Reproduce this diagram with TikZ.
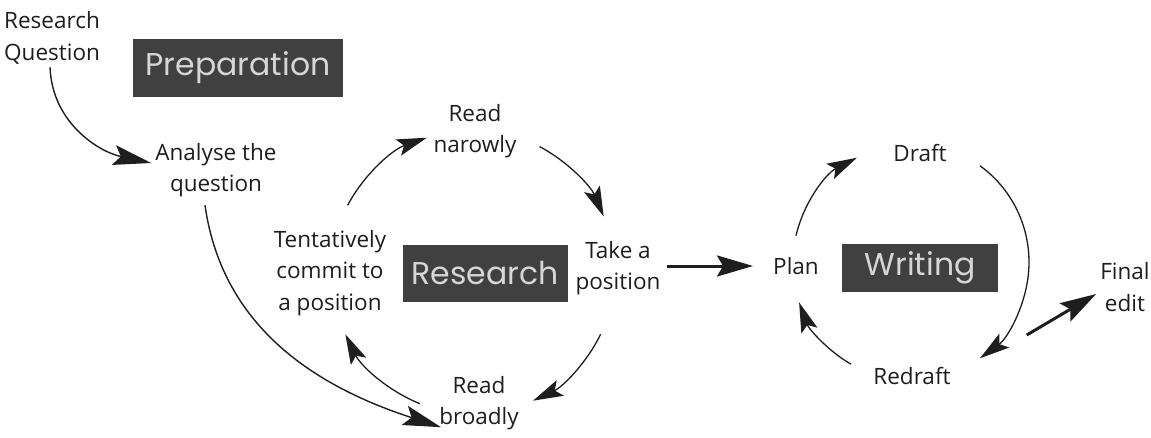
\documentclass[tikz,border=0pt]{standalone}
\usepackage{fontspec}
\setmainfont{Open Sans}
\newfontfamily\phasefamily{Poppins}
\usetikzlibrary{arrows.meta,calc}
\definecolor{boxgray}{HTML}{404040}
\definecolor{boxtext}{HTML}{D6D6D6}
\definecolor{ink}{HTML}{1E1E1E}
\newcommand{\phasefont}{\phasefamily\fontsize{31.5}{36}\selectfont}
\begin{document}
\begin{tikzpicture}[x=1pt,y=1pt,
  lbl/.style={text=ink, font=\fontsize{22.5}{31.5}\selectfont, align=center, inner sep=0pt},
  phase/.style={fill=boxgray, text=boxtext, font=\phasefont, inner sep=0pt},
  arr/.style={draw=ink, line width=1.3pt, -{Stealth[length=30pt,width=17pt,inset=6pt]}},
  bigarr/.style={draw=ink, line width=1.4pt, -{Stealth[length=38pt,width=20pt,inset=7pt]}},
  thickarr/.style={draw=ink, line width=3pt, -{Stealth[length=36pt,width=21pt,inset=6pt]}}
]
\fill[white] (0,0) rectangle (1151,437);
\useasboundingbox (0,0) rectangle (1151,437);

% phase boxes
\node[phase, minimum width=210pt, minimum height=58pt] (prep) at (238,369) {Preparation};
\node[phase, minimum width=165pt, minimum height=57pt] (res) at (485,164) {Research};
\node[phase, minimum width=156pt, minimum height=48pt] (wri) at (920,169) {Writing};

% labels
\node[lbl, align=left, anchor=west] (rq) at (4,399) {Research\\Question};
\node[lbl] (an) at (216,267) {Analyse the\\question};
\node[lbl] (rn) at (475,306) {Read\\narowly};
\node[lbl] (tc) at (330,164) {Tentatively\\commit to\\a position};
\node[lbl] (tp) at (618,169) {Take a\\position};
\node[lbl] (rb) at (479,34) {Read\\broadly};
\node[lbl] (pl) at (796,171) {Plan};
\node[lbl] (dr) at (920,284) {Draft};
\node[lbl] (rd) at (912,61) {Redraft};
\node[lbl] (fe) at (1125,150) {Final\\edit};

% circle centres
\coordinate (rc) at (473,165);
\coordinate (wc) at (910,175);

% preparation flow
\draw[bigarr] ([xshift=-2pt,yshift=-3pt]rq.south) to[out=-88,in=168] ([xshift=-4pt,yshift=7pt]an.west);
\draw[bigarr] ([xshift=-11pt,yshift=-8pt]an.south) to[out=-82,in=162] ([xshift=2pt,yshift=3pt]rb.south west);

% research cycle
\draw[arr] ([shift={(152:142)}]rc) arc[start angle=152,end angle=109,radius=142];
\draw[arr] ([shift={(62:142)}]rc) arc[start angle=62,end angle=23,radius=142];
\draw[arr] ([shift={(-26:142)}]rc) arc[start angle=-26,end angle=-65,radius=142];
\draw[arr] ([shift={(-112:142)}]rc) arc[start angle=-112,end angle=-154,radius=142];

% research -> writing
\draw[thickarr] ([xshift=6pt]tp.east |- pl.west) -- ([xshift=-20pt]pl.west);

% writing cycle
\draw[arr] ([shift={(167:117)}]wc) arc[start angle=167,end angle=117,radius=117];
\draw[arr] ([shift={(54:119)}]wc) arc[start angle=54,end angle=-54,radius=119];
\draw[arr] ([shift={(-120:118)}]wc) arc[start angle=-120,end angle=-160,radius=118];

% final edit
\draw[thickarr] ([xshift=76pt,yshift=41pt]rd.east) -- ([xshift=-4pt,yshift=-7pt]fe.west);
\end{tikzpicture}
\end{document}
